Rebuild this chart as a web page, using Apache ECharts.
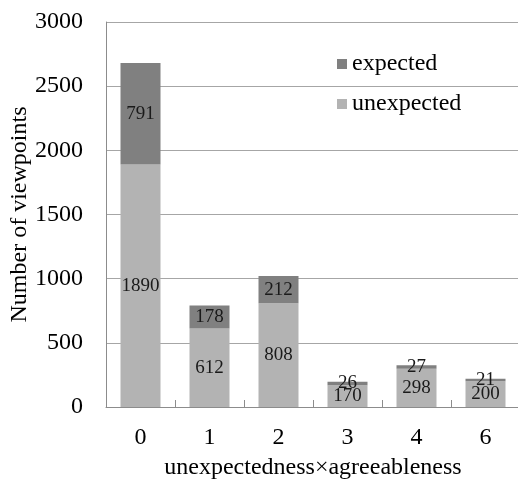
<!DOCTYPE html>
<html>
<head>
<meta charset="utf-8">
<script src="https://cdn.jsdelivr.net/npm/echarts@6/dist/echarts.min.js"></script>
<style>
  html, body { margin: 0; padding: 0; background: #fff; }
  #chart { width: 518px; height: 485px; }
</style>
</head>
<body>
<div id="chart"></div>
<script>
// Viewpoint counts by unexpectedness × agreeableness score
const categories = ['0', '1', '2', '3', '4', '6'];
const unexpectedCounts = [1890, 612, 808, 170, 298, 200];
const expectedCounts = [791, 178, 212, 26, 27, 21];
const yTicks = { min: 0, max: 3000, interval: 500 };

const serif = '"Liberation Serif", "DejaVu Serif", serif';

const chart = echarts.init(document.getElementById('chart'), null, { renderer: 'canvas' });

const segLabel = {
  show: true,
  position: 'inside',
  color: '#1a1a1a',
  fontFamily: serif,
  fontSize: 19
};

chart.setOption({
  animation: false,
  backgroundColor: '#ffffff',
  grid: {
    left: 106, top: 22, width: 414, height: 385,
    containLabel: false,
    outerBoundsMode: 'none'
  },
  legend: {
    orient: 'vertical',
    left: 332,
    top: 47,
    itemWidth: 10,
    itemHeight: 10,
    itemGap: 16,
    icon: 'rect',
    data: ['expected', 'unexpected'],
    textStyle: { fontFamily: serif, fontSize: 24, color: '#000' }
  },
  xAxis: {
    type: 'category',
    data: categories,
    name: 'unexpectedness×agreeableness',
    nameLocation: 'middle',
    nameGap: 49,
    nameMoveOverlap: false,
    nameTextStyle: { fontFamily: serif, fontSize: 24, color: '#000' },
    axisLine: { lineStyle: { color: '#8c8c8c', width: 1 } },
    axisTick: { show: true, inside: true, length: 7, lineStyle: { color: '#8c8c8c' } },
    axisLabel: { fontFamily: serif, fontSize: 24, color: '#000', margin: 19 }
  },
  yAxis: {
    type: 'value',
    min: yTicks.min,
    max: yTicks.max,
    interval: yTicks.interval,
    name: 'Number of viewpoints',
    nameLocation: 'middle',
    nameGap: 74,
    nameMoveOverlap: false,
    nameTextStyle: { fontFamily: serif, fontSize: 24, color: '#000' },
    axisLine: { show: true, lineStyle: { color: '#8c8c8c', width: 1 } },
    axisTick: { show: false },
    axisLabel: {
      fontFamily: serif, fontSize: 24, color: '#000', margin: 23,
      formatter: (v) => String(v)
    },
    splitLine: { lineStyle: { color: '#a6a6a6', width: 1 } }
  },
  series: [
    {
      name: 'unexpected',
      type: 'bar',
      stack: 'total',
      barWidth: 40,
      data: unexpectedCounts,
      itemStyle: { color: '#b3b3b3' },
      label: segLabel
    },
    {
      name: 'expected',
      type: 'bar',
      stack: 'total',
      barWidth: 40,
      data: expectedCounts,
      itemStyle: { color: '#808080' },
      label: segLabel
    }
  ]
});
</script>
</body>
</html>
